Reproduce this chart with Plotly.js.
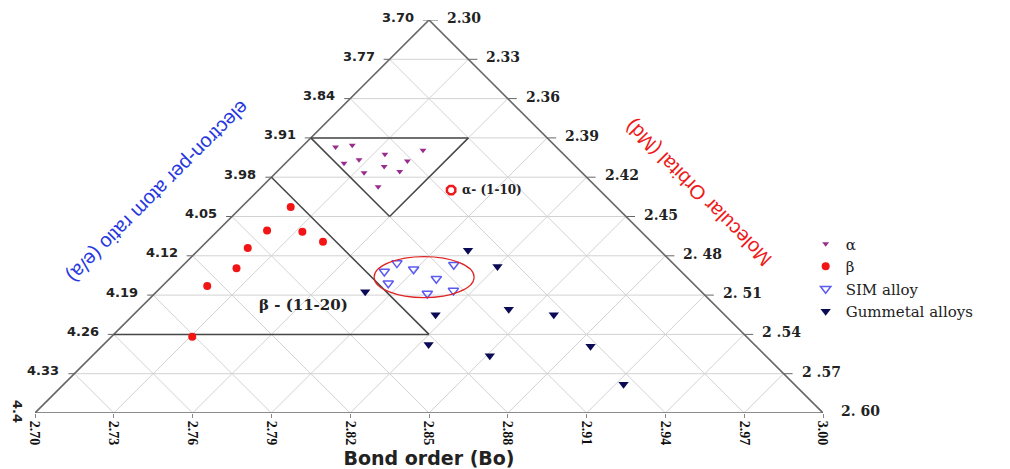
<!DOCTYPE html>
<html><head><meta charset="utf-8">
<script src="https://cdn.plot.ly/plotly-3.0.1.min.js"></script>
<style>html,body{margin:0;padding:0;background:#fff;overflow:hidden}#chart{width:1010px;height:469px}</style>
</head><body><div id="chart"></div>
<script>
// ---------- data ----------
const seriesNames = ['α', 'β', 'SIM alloy', 'Gummetal alloys'];
const alphaEA = [3.926, 3.923, 3.939, 3.932, 3.955, 3.949, 3.951, 3.961, 3.972, 3.970, 3.997];
const alphaBo = [2.916, 2.923, 2.932, 2.948, 2.913, 2.920, 2.938, 2.927, 2.917, 2.931, 2.917];
const betaEA  = [4.033, 4.075, 4.077, 4.095, 4.106, 4.142, 4.174, 4.264];
const betaBo  = [2.876, 2.858, 2.871, 2.875, 2.844, 2.832, 2.814, 2.789];
const simEA   = [4.133, 4.148, 4.144, 4.136, 4.169, 4.161, 4.187, 4.182];
const simBo   = [2.895, 2.887, 2.899, 2.916, 2.884, 2.904, 2.895, 2.906];
const gumEA   = [4.110, 4.139, 4.184, 4.225, 4.215, 4.225, 4.278, 4.298, 4.281, 4.349];
const gumBo   = [2.927, 2.932, 2.872, 2.890, 2.920, 2.935, 2.876, 2.895, 2.937, 2.935];

const eaTicks  = [3.70, 3.77, 3.84, 3.91, 3.98, 4.05, 4.12, 4.19, 4.26, 4.33];
const eaLabels = ['3.70', '3.77', '3.84', '3.91', '3.98', '4.05', '4.12', '4.19', '4.26', '4.33'];
const eaEndLabel = '4.4';
const mdTicks  = [2.30, 2.33, 2.36, 2.39, 2.42, 2.45, 2.48, 2.51, 2.54, 2.57, 2.60];
const mdLabels = ['2.30', '2.33', '2.36', '2.39', '2.42', '2.45', '2. 48', '2. 51', '2 .54', '2 .57', '2. 60'];
const boTicks  = [2.70, 2.73, 2.76, 2.79, 2.82, 2.85, 2.88, 2.91, 2.94, 2.97, 3.00];
const boLabels = ['2.70', '2.73', '2.76', '2.79', '2.82', '2.85', '2.88', '2.91', '2.94', '2.97', '3.00'];

// region bounds (axis values)
const alphaRegion = {eaMin: 3.91, boMin: 2.91, mdMax: 2.36};
const betaRegion  = {eaMax: 4.26, boMax: 2.88};
const alphaMarkEA = [4.003], alphaMarkBo = [2.9435];
const simCircle = {ea: 4.158, bo: 2.900};

// ---------- ternary scales ----------
const EA = [4.40, 3.70], BO = [2.70, 3.00], MD = [2.30, 2.60];
const aOf = ea => (EA[0] - ea) / (EA[0] - EA[1]);
const bOf = bo => (BO[1] - bo) / (BO[1] - BO[0]);
const cOf = md => (md - MD[0]) / (MD[1] - MD[0]);
const toXY = (a, c) => [BO[0] + (BO[1] - BO[0]) * (c + a / 2), EA[0] - (EA[0] - EA[1]) * a];
const fromEaBo = (ea, bo) => { const a = aOf(ea), b = bOf(bo); return toXY(a, 1 - a - b); };
function project(eaArr, boArr) {
  const x = [], y = [];
  eaArr.forEach((ea, i) => { const p = fromEaBo(ea, boArr[i]); x.push(p[0]); y.push(p[1]); });
  return {x, y};
}

const GRID = '#d2d2d2', EDGE = '#666666', REG = '#474747';
const shapes = [];
const seg = (p, q, color, width, layer) => ({type: 'line', xref: 'x', yref: 'y', x0: p[0], y0: p[1], x1: q[0], y1: q[1], line: {color, width}, layer: layer || 'below'});
for (let i = 1; i < 10; i++) {
  const f = i / 10;
  shapes.push(seg(toXY(f, 0), toXY(f, 1 - f), GRID, 1));
  shapes.push(seg(toXY(0, 1 - f), toXY(1 - f, 0), GRID, 1));
  shapes.push(seg(toXY(1 - f, f), toXY(0, f), GRID, 1));
}
const T = toXY(1, 0), L = toXY(0, 0), R = toXY(0, 1);
shapes.push(seg(T, L, EDGE, 1.6)); shapes.push(seg(L, R, EDGE, 1.6)); shapes.push(seg(R, T, EDGE, 1.6));

// alpha region: ea >= 3.91, Bo >= 2.91, Md <= 2.36
{
  const a0 = aOf(alphaRegion.eaMin), b0 = bOf(alphaRegion.boMin), c0 = cOf(alphaRegion.mdMax);
  const p1 = toXY(a0, 1 - a0 - b0), p2 = toXY(a0, c0), p3 = toXY(1 - b0 - c0, c0);
  shapes.push(seg(p1, p2, REG, 1.5)); shapes.push(seg(p2, p3, REG, 1.5)); shapes.push(seg(p3, p1, REG, 1.5));
}
// beta region: ea <= 4.26, Bo <= 2.88
{
  const a1 = aOf(betaRegion.eaMax), b1 = bOf(betaRegion.boMax);
  shapes.push(seg(toXY(1 - b1, 0), toXY(a1, 1 - a1 - b1), REG, 1.5));
  shapes.push(seg(toXY(a1, 0), toXY(a1, 1 - a1 - b1), REG, 1.5));
}
// SIM ellipse
{
  const c = fromEaBo(simCircle.ea, simCircle.bo);
  shapes.push({type: 'circle', xref: 'x', yref: 'y', xsizemode: 'pixel', ysizemode: 'pixel',
    xanchor: c[0], yanchor: c[1], x0: -50, x1: 50, y0: -20.5, y1: 20.5,
    line: {color: '#e02424', width: 1.2}, layer: 'above'});
}

const annotations = [];
// left (e/a) ticks & labels
eaTicks.forEach((ea, i) => {
  const p = toXY(aOf(ea), 0);
  shapes.push({type: 'line', xref: 'x', yref: 'y', xsizemode: 'pixel', xanchor: p[0], x0: -6, x1: 0, y0: p[1], y1: p[1], line: {color: EDGE, width: 1}});
  annotations.push({x: p[0], y: p[1], xref: 'x', yref: 'y', text: eaLabels[i], showarrow: false,
    xanchor: 'right', yanchor: 'middle', xshift: -13, yshift: 3,
    font: {family: 'DejaVu Sans', size: 13, color: '#222', weight: 'bold'}});
});
annotations.push({x: L[0], y: L[1], xref: 'x', yref: 'y', text: eaEndLabel, showarrow: false, textangle: 90,
  xanchor: 'center', yanchor: 'middle', xshift: -17, yshift: 2,
  font: {family: 'DejaVu Sans', size: 13, color: '#222', weight: 'bold'}});
// right (Md) ticks & labels
mdTicks.forEach((md, i) => {
  const c = cOf(md), p = toXY(1 - c, c);
  shapes.push({type: 'line', xref: 'x', yref: 'y', xsizemode: 'pixel', xanchor: p[0], x0: 0, x1: 9, y0: p[1], y1: p[1], line: {color: EDGE, width: 1}});
  annotations.push({x: p[0], y: p[1], xref: 'x', yref: 'y', text: mdLabels[i], showarrow: false,
    xanchor: 'left', yanchor: 'middle', xshift: 16, yshift: 2,
    font: {family: 'DejaVu Serif', size: 14, color: '#222', weight: 'bold'}});
});
// region labels
{
  const pa = fromEaBo(alphaMarkEA[0], alphaMarkBo[0]);
  annotations.push({x: pa[0], y: pa[1], xref: 'x', yref: 'y', text: 'α- (1-10)', showarrow: false,
    xanchor: 'left', yanchor: 'middle', xshift: 9, yshift: 0,
    font: {family: 'DejaVu Serif', size: 12, color: '#222', weight: 'bold'}});
  const pb = fromEaBo(4.208, 2.8434);
  annotations.push({x: pb[0], y: pb[1], xref: 'x', yref: 'y', text: 'β - (11-20)', showarrow: false,
    xanchor: 'center', yanchor: 'middle',
    font: {family: 'DejaVu Serif', size: 15, color: '#222', weight: 'bold'}});
}
// side titles
annotations.push({xref: 'paper', yref: 'paper', x: 0.1561, y: 0.5623, text: 'electron-per atom ratio (e/a)',
  textangle: 135, showarrow: false, xanchor: 'center', yanchor: 'middle',
  font: {family: 'Liberation Sans', size: 20, color: '#2738e0'}});
annotations.push({xref: 'paper', yref: 'paper', x: 0.8414, y: 0.5598, text: 'Molecular Orbital (Md)',
  textangle: -135, showarrow: false, xanchor: 'center', yanchor: 'middle',
  font: {family: 'Liberation Sans', size: 20, color: '#ee1a1a'}});

const pA = project(alphaEA, alphaBo), pB = project(betaEA, betaBo), pS = project(simEA, simBo), pG = project(gumEA, gumBo);
const pM = project(alphaMarkEA, alphaMarkBo);
const traces = [
  {type: 'scatter', mode: 'markers', name: seriesNames[0], x: pA.x, y: pA.y,
   marker: {symbol: 'triangle-down', size: 6, color: '#9a2c8c'}},
  {type: 'scatter', mode: 'markers', name: seriesNames[1], x: pB.x, y: pB.y,
   marker: {symbol: 'circle', size: 8, color: '#f21515'}},
  {type: 'scatter', mode: 'markers', name: seriesNames[2], x: pS.x, y: pS.y,
   marker: {symbol: 'triangle-down-open', size: 9, color: '#5b5bf0', line: {width: 1.5, color: '#5b5bf0'}}},
  {type: 'scatter', mode: 'markers', name: seriesNames[3], x: pG.x, y: pG.y,
   marker: {symbol: 'triangle-down', size: 9, color: '#0b0b55'}},
  {type: 'scatter', mode: 'markers', x: pM.x, y: pM.y, showlegend: false, hoverinfo: 'skip',
   marker: {symbol: 'octagon-open', size: 9, color: '#ee1a1a', line: {width: 2.5, color: '#ee1a1a'}}}
];

const layout = {
  width: 1010, height: 469,
  margin: {l: 35, r: 187, t: 20, b: 56, autoexpand: false},
  paper_bgcolor: '#fff', plot_bgcolor: '#fff',
  showlegend: true,
  legend: {x: 0.978, xanchor: 'left', y: 0.472, yanchor: 'top', bgcolor: 'rgba(0,0,0,0)',
    font: {family: 'DejaVu Serif', size: 15, color: '#222'}, tracegroupgap: 0},
  xaxis: {range: [BO[0], BO[1]], tickmode: 'array', tickvals: boTicks, ticktext: boLabels, tickangle: 90,
    ticks: 'outside', ticklen: 4, tickcolor: '#888', showgrid: false, zeroline: false, showline: false,
    tickfont: {family: 'Liberation Serif', size: 14, color: '#111', weight: 'bold'},
    title: {text: 'Bond order (Bo)', standoff: 8, font: {family: 'DejaVu Sans', size: 19, color: '#222', weight: 'bold'}},
    fixedrange: true},
  yaxis: {range: [EA[0], EA[1]], visible: false, fixedrange: true},
  shapes, annotations
};
Plotly.newPlot('chart', traces, layout, {displayModeBar: false, staticPlot: true});
</script></body></html>
